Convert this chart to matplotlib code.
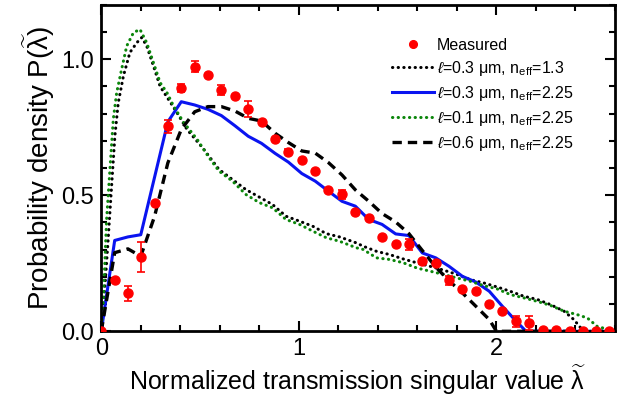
import numpy as np
import matplotlib
matplotlib.use('Agg')
from matplotlib import pyplot as plt
from matplotlib.ticker import MultipleLocator, FuncFormatter

plt.rcParams['font.family'] = ['Liberation Sans', 'DejaVu Sans']
plt.rcParams['mathtext.fontset'] = 'custom'
plt.rcParams['mathtext.rm'] = 'Liberation Sans'
plt.rcParams['mathtext.it'] = 'Liberation Sans:italic'
plt.rcParams['mathtext.bf'] = 'Liberation Sans:bold'

# =============================================================================
# Data
# =============================================================================

# measured distribution
meas_x = [0.0, 0.068, 0.135, 0.20, 0.27, 0.337, 0.405, 0.473, 0.54, 0.608,
          0.676, 0.744, 0.811, 0.88, 0.947, 1.015, 1.083, 1.15, 1.218, 1.286,
          1.354, 1.421, 1.49, 1.557, 1.625, 1.693, 1.76, 1.828, 1.896, 1.964,
          2.03, 2.10, 2.167, 2.235, 2.30, 2.37, 2.44, 2.505, 2.57]
meas_y = [0.0, 0.187, 0.14, 0.274, 0.47, 0.753, 0.894, 0.973, 0.941, 0.887,
          0.864, 0.817, 0.768, 0.707, 0.66, 0.628, 0.589, 0.518, 0.503, 0.439,
          0.416, 0.345, 0.32, 0.32, 0.258, 0.25, 0.187, 0.155, 0.147, 0.10,
          0.076, 0.037, 0.031, 0.004, 0.004, 0.0, 0.0, 0.0, 0.0]
meas_err = [0.0, 0.0, 0.027, 0.055, 0.0, 0.025, 0.015, 0.02, 0.0, 0.02,
            0.0, 0.03, 0.0, 0.0, 0.01, 0.0, 0.0, 0.0, 0.015, 0.0,
            0.0, 0.0, 0.0, 0.02, 0.0, 0.0, 0.015, 0.0, 0.0, 0.0,
            0.0, 0.02, 0.025, 0.0, 0.0, 0.0, 0.0, 0.0, 0.0]

# l=0.3 um, n_eff=1.3 (black dotted)
d13_x = [0.0, 0.01, 0.036, 0.052, 0.069, 0.086, 0.112, 0.145, 0.18, 0.205,
         0.23, 0.264, 0.298, 0.383, 0.434, 0.518, 0.596, 0.732, 0.867, 0.935,
         1.003, 1.071, 1.139, 1.206, 1.291, 1.325, 1.393, 1.46, 1.528, 1.596,
         1.664, 1.732, 1.80, 1.867, 1.935, 2.003, 2.07, 2.138, 2.207, 2.274,
         2.342, 2.392, 2.427, 2.46, 2.6]
d13_y = [0.0, 0.07, 0.35, 0.53, 0.718, 0.84, 0.938, 1.025, 1.061, 1.08,
         1.049, 0.976, 0.90, 0.804, 0.742, 0.67, 0.595, 0.521, 0.466, 0.423,
         0.405, 0.386, 0.359, 0.347, 0.325, 0.313, 0.294, 0.282, 0.266, 0.252,
         0.239, 0.225, 0.209, 0.19, 0.178, 0.163, 0.147, 0.129, 0.117, 0.098,
         0.074, 0.043, 0.012, 0.0, 0.0]

# l=0.3 um, n_eff=2.25 (blue solid)
s03_x = [0.0, 0.068, 0.135, 0.20, 0.337, 0.405, 0.473, 0.54, 0.608, 0.676,
         0.744, 0.811, 0.88, 0.947, 1.015, 1.083, 1.15, 1.218, 1.286, 1.354,
         1.421, 1.49, 1.557, 1.625, 1.693, 1.76, 1.828, 1.896, 1.964, 2.03,
         2.10, 2.15, 2.6]
s03_y = [0.0, 0.334, 0.347, 0.355, 0.77, 0.844, 0.832, 0.816, 0.793, 0.756,
         0.717, 0.691, 0.654, 0.622, 0.580, 0.552, 0.515, 0.478, 0.46, 0.411,
         0.393, 0.358, 0.352, 0.288, 0.27, 0.239, 0.202, 0.181, 0.147, 0.092,
         0.037, 0.0, 0.0]

# l=0.1 um, n_eff=2.25 (green dotted)
s01_x = [0.0, 0.01, 0.027, 0.044, 0.061, 0.078, 0.103, 0.129, 0.163, 0.196,
         0.23, 0.264, 0.298, 0.332, 0.366, 0.417, 0.485, 0.546, 0.596, 0.664,
         0.732, 0.80, 0.867, 0.935, 1.003, 1.071, 1.139, 1.206, 1.291, 1.325,
         1.393, 1.46, 1.528, 1.596, 1.664, 1.732, 1.80, 1.867, 1.935, 2.003,
         2.07, 2.138, 2.207, 2.274, 2.342, 2.41, 2.46, 2.51, 2.58, 2.6]
s01_y = [0.0, 0.105, 0.41, 0.595, 0.78, 0.877, 0.963, 1.049, 1.098, 1.11,
         1.061, 0.988, 0.914, 0.878, 0.828, 0.768, 0.706, 0.638, 0.589, 0.552,
         0.503, 0.473, 0.454, 0.411, 0.393, 0.368, 0.344, 0.331, 0.307, 0.301,
         0.27, 0.264, 0.252, 0.233, 0.221, 0.209, 0.196, 0.184, 0.168, 0.156,
         0.135, 0.123, 0.11, 0.095, 0.074, 0.061, 0.049, 0.018, 0.004, 0.0]

# l=0.6 um, n_eff=2.25 (black dashed)
s06_x = [0.0, 0.068, 0.135, 0.20, 0.27, 0.337, 0.405, 0.473, 0.54, 0.608,
         0.676, 0.744, 0.811, 0.88, 0.947, 1.015, 1.083, 1.15, 1.218, 1.286,
         1.354, 1.421, 1.49, 1.557, 1.625, 1.693, 1.76, 1.828, 1.896, 1.964,
         2.0, 2.6]
s06_y = [0.0, 0.289, 0.303, 0.276, 0.423, 0.619, 0.742, 0.807, 0.826, 0.826,
         0.81, 0.783, 0.773, 0.728, 0.694, 0.663, 0.655, 0.62, 0.575, 0.52,
         0.478, 0.433, 0.402, 0.359, 0.297, 0.236, 0.186, 0.141, 0.092, 0.043,
         0.0, 0.0]

# =============================================================================
# Plot
# =============================================================================

fig = plt.figure(figsize=(6.25, 4.07), dpi=100)
ax = fig.add_axes([0.162, 0.186, 0.822, 0.802])

red = '#ff0000'
dots = (0, (0.1, 1.75))

# error bars first (no legend entry), then the dots themselves
ax.errorbar(meas_x, meas_y, yerr=meas_err, fmt='none', ecolor=red,
            elinewidth=1.2, capsize=3, capthick=1.2, zorder=5)
ax.plot(meas_x, meas_y, 'o', color=red, ms=6.5, label='Measured', zorder=6)
ax.plot(d13_x, d13_y, color='black', ls=dots, lw=2.2,
        dash_capstyle='round', label=r'$\ell$=0.3 μm, n$_{\rm eff}$=1.3')
ax.plot(s03_x, s03_y, color='#0a14f0', ls='-', lw=2.2,
        label=r'$\ell$=0.3 μm, n$_{\rm eff}$=2.25')
ax.plot(s01_x, s01_y, color='#0b860b', ls=dots, lw=2.2,
        dash_capstyle='round', label=r'$\ell$=0.1 μm, n$_{\rm eff}$=2.25')
ax.plot(s06_x, s06_y, color='black', ls=(0, (2.8, 1.8)), lw=2.4,
        label=r'$\ell$=0.6 μm, n$_{\rm eff}$=2.25')

ax.set_xlim(0, 2.6)
ax.set_ylim(0, 1.2)
ax.xaxis.set_major_locator(MultipleLocator(1))
ax.xaxis.set_minor_locator(MultipleLocator(0.2))
ax.yaxis.set_major_locator(MultipleLocator(0.5))
ax.yaxis.set_minor_locator(MultipleLocator(0.1))
ax.xaxis.set_major_formatter(FuncFormatter(lambda v, p: '%d' % v))
ax.yaxis.set_major_formatter(FuncFormatter(lambda v, p: '%.1f' % v))
ax.tick_params(which='both', direction='in', top=True, right=True,
               width=1.5, labelsize=17)
ax.tick_params(which='major', length=7, pad=5)
ax.tick_params(which='minor', length=4)
for sp in ax.spines.values():
    sp.set_linewidth(2)

ax.set_xlabel(r'Normalized transmission singular value $\widetilde{\mathrm{\lambda}}$',
              fontsize=18, labelpad=2)
ax.set_ylabel(r'Probability density P($\widetilde{\mathrm{\lambda}}$)',
              fontsize=20, labelpad=3)

ax.legend(loc='upper left', bbox_to_anchor=(0.566, 0.90), frameon=False,
          fontsize=11.5, handlelength=2.65, handletextpad=0.15,
          labelspacing=0.38, borderpad=0, borderaxespad=0, markerscale=0.85)

fig.savefig('out.png', dpi=100)
